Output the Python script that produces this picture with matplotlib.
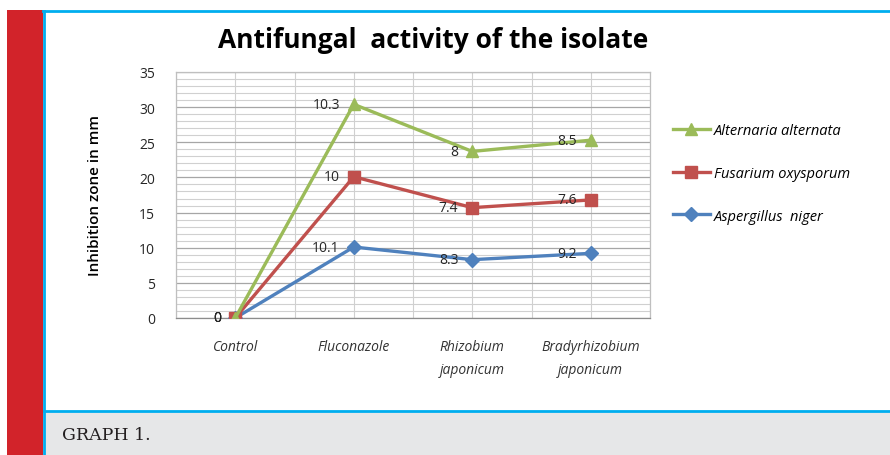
import numpy as np
import matplotlib.pyplot as plt
from matplotlib.patches import Rectangle
from matplotlib.lines import Line2D

# Categories and series (values as labelled; Excel stacked line chart)
categories = ['Control', 'Fluconazole', 'Rhizobium\njaponicum', 'Bradyrhizobium\njaponicum']
series_names = ['Aspergillus  niger', 'Fusarium oxysporum', 'Alternaria alternata']
aspergillus = [0, 10.1, 8.3, 9.2]
fusarium = [0, 10, 7.4, 7.6]
alternaria = [0, 10.3, 8, 8.5]

colors = ['#4F81BD', '#C0504D', '#9BBB59']
markers = ['D', 's', '^']
msizes = [7, 8, 8]

plt.rcParams['font.family'] = ['Open Sans', 'DejaVu Sans']

fig = plt.figure(figsize=(8.9, 4.56), dpi=100)

# page decoration: red stripe, blue frame, grey caption bar
W, H = 890, 456
def fx(px):
    return px / W
def fy(py):
    return 1 - py / H

fig.patches.append(Rectangle((fx(7), 0), fx(43) - fx(7), fy(11), transform=fig.transFigure,
                             facecolor='#D2232A', edgecolor='none', zorder=0))
fig.patches.append(Rectangle((fx(45), 0), 1 - fx(45), fy(413), transform=fig.transFigure,
                             facecolor='#E6E7E8', edgecolor='none', zorder=0))
blue = '#00AEEF'
fig.lines.append(Line2D([fx(43), 1], [fy(12), fy(12)], transform=fig.transFigure, color=blue, lw=2))
fig.lines.append(Line2D([fx(44), fx(44)], [0, fy(12)], transform=fig.transFigure, color=blue, lw=2))
fig.lines.append(Line2D([fx(44), 1], [fy(412), fy(412)], transform=fig.transFigure, color=blue, lw=2))
fig.text(fx(62), fy(436), 'GRAPH 1.', family='DejaVu Serif', fontsize=12.5,
         color='#231F20', va='center', ha='left')

ax = fig.add_axes([fx(176), fy(319), fx(650) - fx(176), fy(73) - fy(319)])

x = np.arange(len(categories))
data = [aspergillus, fusarium, alternaria]
stacked = np.cumsum(np.array(data), axis=0)

handles = []
for vals, top, name, c, m, ms in zip(data, stacked, series_names, colors, markers, msizes):
    h, = ax.plot(x, top, color=c, lw=2.4, marker=m, markersize=ms, label=name, zorder=3)
    handles.append(h)
    for xi, yi, v in zip(x, top, vals):
        ax.annotate(f'{v:g}', (xi, yi), xytext=(-10, 0), textcoords='offset points',
                    ha='right', va='center', fontsize=10, color='#262626', zorder=4)

ax.set_xlim(-0.5, 3.5)
ax.set_ylim(0, 35)
ax.set_yticks(np.arange(0, 36, 5))
ax.set_yticks(np.arange(0, 36, 1), minor=True)
ax.set_xticks(x)
ax.set_xticks(np.arange(-0.5, 3.6, 1.0), minor=True)
ax.set_xticklabels(categories, style='italic', fontsize=10, color='#333333', linespacing=1.7)
ax.tick_params(axis='y', labelsize=10, colors='#262626', length=0, pad=15)
ax.tick_params(axis='x', length=0, pad=15)
ax.tick_params(which='minor', length=0)

ax.grid(True, which='minor', axis='both', color='#D0D0D0', lw=0.8, zorder=0)
ax.grid(True, which='major', axis='x', color='#D0D0D0', lw=0.8, zorder=0)
ax.grid(True, which='major', axis='y', color='#A6A6A6', lw=0.9, zorder=1)
for s in ax.spines.values():
    s.set_color('#BFBFBF')
    s.set_linewidth(0.9)
ax.spines['bottom'].set_color('#8C8C8C')

ax.set_ylabel('Inhibition zone in mm', fontsize=11, fontweight='semibold', labelpad=27)

fig.text(fx(433), fy(40), 'Antifungal  activity of the isolate', fontsize=19,
         fontweight='bold', ha='center', va='center')

fig.legend(handles[::-1], [h.get_label() for h in handles[::-1]], loc='upper left',
           bbox_to_anchor=(fx(660), fy(111)), frameon=False, prop={'style': 'italic', 'size': 10.5},
           labelspacing=1.9, handlelength=2.5, handletextpad=0.3)

fig.savefig('out.png', dpi=100)
